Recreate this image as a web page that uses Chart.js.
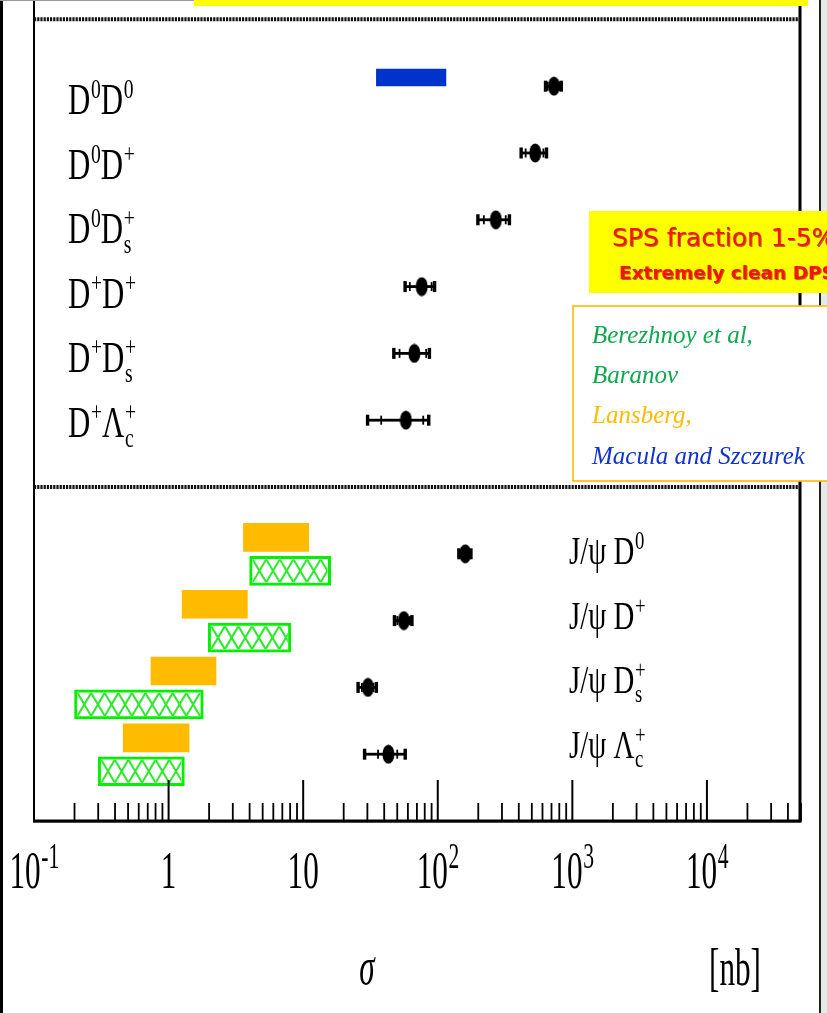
<!DOCTYPE html>
<html>
<head>
<meta charset="utf-8">
<script src="https://cdn.jsdelivr.net/npm/chart.js@4.4.1/dist/chart.umd.min.js"></script>
<style>
  html, body { margin: 0; padding: 0; background: #fff; }
  canvas { display: block; }
</style>
</head>
<body>
<canvas id="sigmaChart" width="827" height="1013"></canvas>
<script>
// Open charm pairs: sigma in nb, stat and total error
const pairLabels = ["D^{0}D^{0}", "D^{0}D^{+}", "D^{0}D_{s}^{+}", "D^{+}D^{+}", "D^{+}D_{s}^{+}", "D^{+}Λ_{c}^{+}"];
const pairSigma = [730, 530, 270, 76, 67, 58];
const pairStat = [75, 80, 50, 14, 15, 20];
const pairTotal = [100, 115, 72, 19, 20, 28];

// J/psi + open charm
const jpsiLabels = ["J/ψ D^{0}", "J/ψ D^{+}", "J/ψ D_{s}^{+}", "J/ψ Λ_{c}^{+}"];
const jpsiSigma = [160, 56, 30.3, 43];
const jpsiStat = [3, 6, 3, 7];
const jpsiTotal = [17, 8.5, 4.8, 14.5];

// theory bands [low, high] nb
const maculaD0D0 = [35, 115];
const lansbergJpsi = [[3.6, 11], [1.26, 3.85], [0.74, 2.25], [0.46, 1.42]];
const berezhnoyJpsi = [[4.0, 16], [1.97, 8.1], [0.2, 1.81], [0.3, 1.31]];

const tickValues = [0.1, 1, 10, 100, 1000, 10000];
const tickLabels = ["10^{-1}", "1", "10", "10^{2}", "10^{3}", "10^{4}"];

const authors = [
  { text: "Berezhnoy et al,", color: "#10a84e" },
  { text: "Baranov", color: "#10a84e" },
  { text: "Lansberg,", color: "#ffbb00" },
  { text: "Macula and Szczurek", color: "#1234c8" },
];

const SERIF = '"Liberation Serif", "DejaVu Serif", serif';

// rows: pairs on 1..6, J/psi on 8..11
const pairRows = pairLabels.map((_, i) => i + 1);
const jpsiRows = jpsiLabels.map((_, i) => i + 8);

const allSigma = pairSigma.concat(jpsiSigma);
const allStat = pairStat.concat(jpsiStat);
const allTotal = pairTotal.concat(jpsiTotal);
const allRows = pairRows.concat(jpsiRows);

// black elliptic marker
function dotStyle() {
  const c = document.createElement("canvas");
  c.width = 13; c.height = 20;
  const g = c.getContext("2d");
  g.fillStyle = "#000";
  g.beginPath();
  g.ellipse(6.5, 10, 6, 9.5, 0, 0, Math.PI * 2);
  g.fill();
  return c;
}

// tiny markup: D^{0}D_{s}^{+}
function parseRich(s) {
  const out = [];
  let i = 0;
  while (i < s.length) {
    const c = s[i];
    if ((c === "^" || c === "_") && s[i + 1] === "{") {
      const end = s.indexOf("}", i);
      const key = c === "^" ? "sup" : "sub";
      let last = out[out.length - 1];
      if (!last || last.kind !== "script" || last[key] != null) {
        last = { kind: "script" };
        out.push(last);
      }
      last[key] = s.slice(i + 2, end);
      i = end + 1;
    } else {
      const last = out[out.length - 1];
      if (last && last.kind === "text") last.text += c;
      else out.push({ kind: "text", text: c });
      i++;
    }
  }
  return out;
}

function drawRich(ctx, markup, x, y, o) {
  const parts = parseRich(markup);
  const big = (o.style ? o.style + " " : "") + o.size + "px " + SERIF;
  const small = o.small + "px " + SERIF;
  ctx.save();
  ctx.translate(x, y);
  ctx.scale(o.sx, 1);
  ctx.textAlign = "left";
  ctx.textBaseline = "alphabetic";
  ctx.fillStyle = o.color || "#000";
  let w = 0;
  for (const p of parts) {
    if (p.kind === "text") { ctx.font = big; w += ctx.measureText(p.text).width; }
    else {
      ctx.font = small;
      w += Math.max(p.sup ? ctx.measureText(p.sup).width : 0, p.sub ? ctx.measureText(p.sub).width : 0);
    }
  }
  let cx = o.align === "center" ? -w / 2 : 0;
  for (const p of parts) {
    if (p.kind === "text") {
      ctx.font = big;
      ctx.fillText(p.text, cx, 0);
      cx += ctx.measureText(p.text).width;
    } else {
      ctx.font = small;
      let pw = 0;
      if (p.sup) { ctx.fillText(p.sup, cx + 1, -o.rise); pw = ctx.measureText(p.sup).width + 1; }
      if (p.sub) { ctx.fillText(p.sub, cx + 1, o.drop); pw = Math.max(pw, ctx.measureText(p.sub).width + 1); }
      cx += pw;
    }
  }
  ctx.restore();
}

const figurePlugin = {
  id: "figure",
  afterDatasetsDraw(chart) {
    const ctx = chart.ctx;
    const x = chart.scales.x;

    // cross hatch inside the Berezhnoy boxes
    const hatchMeta = chart.getDatasetMeta(2);
    hatchMeta.data.forEach((el) => {
      const p = el.getProps(["x", "y", "base", "height"], true);
      const l = Math.min(p.x, p.base) + 3, r = Math.max(p.x, p.base) - 3;
      const t = p.y - p.height / 2 + 3, b = p.y + p.height / 2 - 3;
      ctx.save();
      ctx.beginPath();
      ctx.rect(l, t, r - l, b - t);
      ctx.clip();
      ctx.strokeStyle = "#2bea2b";
      ctx.lineWidth = 2;
      const cell = 13.6;
      for (let cx = l - cell; cx < r + cell; cx += cell) {
        ctx.beginPath();
        ctx.moveTo(cx, t); ctx.lineTo(cx + cell, b);
        ctx.moveTo(cx + cell, t); ctx.lineTo(cx, b);
        ctx.stroke();
      }
      ctx.restore();
    });

    // error bars: stat ticks inside, total caps at the ends
    const ptMeta = chart.getDatasetMeta(3);
    ptMeta.data.forEach((el, i) => {
      const py = el.y;
      const lo = x.getPixelForValue(allSigma[i] - allTotal[i]);
      const hi = x.getPixelForValue(allSigma[i] + allTotal[i]);
      const sLo = x.getPixelForValue(allSigma[i] - allStat[i]);
      const sHi = x.getPixelForValue(allSigma[i] + allStat[i]);
      ctx.save();
      ctx.fillStyle = "#000";
      ctx.fillRect(lo, py - 1.4, hi - lo, 2.8);
      ctx.fillRect(lo - 1.5, py - 5.5, 3.4, 11);
      ctx.fillRect(hi - 1.9, py - 5.5, 3.4, 11);
      ctx.fillRect(sLo - 0.9, py - 4.5, 1.8, 9);
      ctx.fillRect(sHi - 0.9, py - 4.5, 1.8, 9);
      ctx.restore();
    });
  },
  afterDraw(chart) {
    const ctx = chart.ctx;
    const area = chart.chartArea;
    const x = chart.scales.x;
    const y = chart.scales.y;
    ctx.save();

    // frame
    ctx.fillStyle = "#000";
    ctx.fillRect(area.left - 1, 0, 2, area.bottom + 1);
    ctx.fillRect(area.right - 2.5, 0, 3, area.bottom + 1);
    ctx.fillRect(area.left - 1, area.bottom - 1.5, area.right - area.left + 1.5, 3.2);

    // log ticks drawn upward from the axis
    tickValues.forEach((d) => {
      const px = x.getPixelForValue(d);
      ctx.fillRect(px - 1, area.bottom - 41, 2, 41);
      for (let m = 2; m <= 9; m++) {
        const v = d * m;
        if (v > x.max) break;
        const mx = x.getPixelForValue(v);
        ctx.fillRect(mx - 0.9, area.bottom - 18, 1.8, 18);
      }
    });

    // tick labels
    tickValues.forEach((d, i) => {
      drawRich(ctx, tickLabels[i], x.getPixelForValue(d), 888, {
        size: 52, small: 36, sx: 0.6, rise: 20, drop: 10, align: "center",
      });
    });

    // axis title and unit
    drawRich(ctx, "σ", 367, 984, { size: 52, small: 30, sx: 0.6, style: "italic", align: "center" });
    drawRich(ctx, "[nb]", 735, 985, { size: 52, small: 30, sx: 0.6, align: "center" });

    // dotted separators between the two groups
    ctx.strokeStyle = "#111";
    ctx.lineWidth = 4;
    ctx.setLineDash([2.2, 1]);
    [0, 7].forEach((v) => {
      const py = y.getPixelForValue(v);
      ctx.beginPath();
      ctx.moveTo(area.left, py);
      ctx.lineTo(area.right - 1, py);
      ctx.stroke();
    });
    ctx.setLineDash([]);

    // row labels
    pairLabels.forEach((lab, i) => {
      drawRich(ctx, lab, 68, 114 + 64.5 * i, { size: 44, small: 28, sx: 0.7, rise: 16, drop: 10 });
    });
    jpsiLabels.forEach((lab, i) => {
      drawRich(ctx, lab, 569, 564 + 64.5 * i, { size: 40, small: 26, sx: 0.72, rise: 15, drop: 9 });
    });

    // page border decoration
    ctx.fillStyle = "#000";
    ctx.fillRect(0, 0, 3, chart.height);
    ctx.fillStyle = "#222";
    ctx.fillRect(819, 0, 2, chart.height);
    ctx.fillStyle = "#e6eae6";
    ctx.fillRect(821, 0, 6, chart.height);
    ctx.fillStyle = "#999";
    ctx.fillRect(0, 0, 194, 1);
    ctx.fillStyle = "#ffff00";
    ctx.fillRect(194, 0, 614, 6);

    // SPS note
    ctx.fillStyle = "#ffff00";
    ctx.fillRect(589, 211, 240, 82);
    ctx.shadowColor = "rgba(110,0,0,0.55)";
    ctx.shadowOffsetX = 1;
    ctx.shadowOffsetY = 1;
    ctx.fillStyle = "#ff1010";
    ctx.textAlign = "left";
    ctx.textBaseline = "alphabetic";
    ctx.font = '25px "Comic Sans MS", "DejaVu Sans", sans-serif';
    ctx.fillText("SPS fraction 1-5%", 612, 246);
    ctx.font = 'bold 18.5px "Comic Sans MS", "DejaVu Sans", sans-serif';
    ctx.fillText("Extremely clean DPS", 619, 279);
    ctx.shadowColor = "transparent";

    // theory references
    ctx.fillStyle = "#fff";
    ctx.fillRect(573, 306, 260, 175);
    ctx.strokeStyle = "#ffbb00";
    ctx.lineWidth = 1.6;
    ctx.strokeRect(573, 306, 260, 175);
    ctx.font = "italic 25px " + SERIF;
    authors.forEach((a, i) => {
      ctx.fillStyle = a.color;
      ctx.fillText(a.text, 592, 343 + 40.2 * i);
    });
    ctx.restore();
  },
};

const ctx = document.getElementById("sigmaChart").getContext("2d");
const chart = new Chart(ctx, {
  type: "scatter",
  data: {
    datasets: [
      {
        type: "bar",
        indexAxis: "y",
        label: "Macula and Szczurek",
        data: [{ x: maculaD0D0, y: pairRows[0] - 0.13 }],
        backgroundColor: "#0033cc",
        barThickness: 17,
        grouped: false,
        borderWidth: 0,
      },
      {
        type: "bar",
        indexAxis: "y",
        label: "Lansberg",
        data: lansbergJpsi.map((r, i) => ({ x: r, y: jpsiRows[i] - 0.245 })),
        backgroundColor: "#ffbb00",
        barThickness: 28,
        grouped: false,
        borderWidth: 0,
      },
      {
        type: "bar",
        indexAxis: "y",
        label: "Berezhnoy et al",
        data: berezhnoyJpsi.map((r, i) => ({ x: r, y: jpsiRows[i] + 0.255 })),
        backgroundColor: "#ffffff",
        borderColor: "#00f000",
        borderWidth: 3,
        borderSkipped: false,
        barThickness: 29,
        grouped: false,
      },
      {
        label: "LHCb",
        data: allSigma.map((v, i) => ({ x: v, y: allRows[i] })),
        pointStyle: dotStyle(),
        pointRadius: 6,
        showLine: false,
      },
    ],
  },
  options: {
    responsive: false,
    devicePixelRatio: 1,
    animation: false,
    events: [],
    layout: { autoPadding: false, padding: { left: 34, right: 26, top: 0, bottom: 192 } },
    plugins: { legend: { display: false }, tooltip: { enabled: false } },
    scales: {
      x: { type: "logarithmic", min: 0.1, max: 50000, display: false },
      y: { type: "linear", min: -0.29, max: 12, reverse: true, display: false, offset: false },
    },
  },
  plugins: [figurePlugin],
});
</script>
</body>
</html>
